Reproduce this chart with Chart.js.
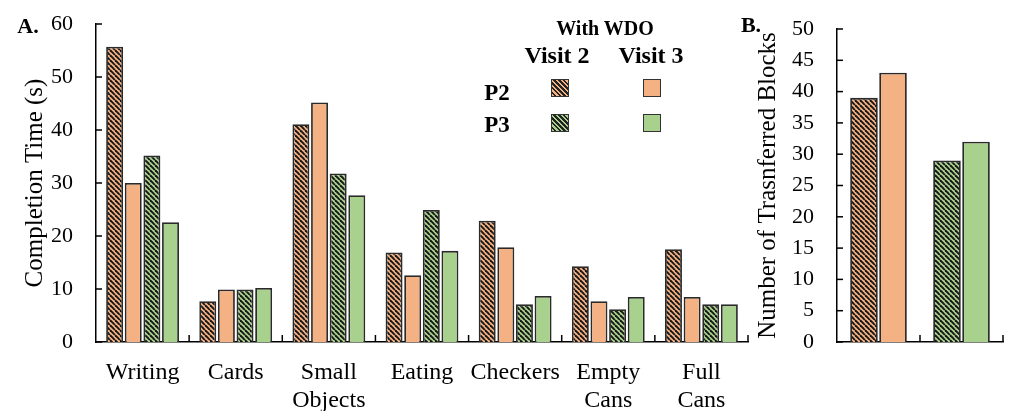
<!DOCTYPE html>
<html>
<head>
<meta charset="utf-8">
<script src="https://cdn.jsdelivr.net/npm/chart.js@4/dist/chart.umd.min.js"></script>
<style>
  body { margin: 0; background: #fff; width: 1016px; height: 411px; overflow: hidden; position: relative; font-family: "Liberation Serif", serif; }
  #wrapA { position: absolute; left: 0; top: 0; width: 760px; height: 411px; }
  #wrapB { position: absolute; left: 730px; top: 0; width: 286px; height: 411px; }
  .lbl { position: absolute; transform: translate(-50%, -50%); white-space: nowrap; font-weight: bold; line-height: 1; color: #000; }
  .sq { position: absolute; width: 16px; height: 16px; border: 1.5px solid #333; }
  .hatchO { background: repeating-linear-gradient(45deg, #F4B183 0 1.6px, #222 1.6px 3.4px); }
  .hatchG { background: repeating-linear-gradient(45deg, #A9D18E 0 1.6px, #222 1.6px 3.4px); }
</style>
</head>
<body>
<div id="wrapA"><canvas id="chartA"></canvas></div>
<div id="wrapB"><canvas id="chartB"></canvas></div>

<div class="lbl" style="left:28px; top:26px; font-size:22px;">A.</div>
<div class="lbl" style="left:751px; top:25px; font-size:22px;">B.</div>

<!-- legenda -->
<div class="lbl" style="left:605px; top:28px; font-size:20px;">With WDO</div>
<div class="lbl" style="left:557px; top:55px; font-size:24px;">Visit 2</div>
<div class="lbl" style="left:651px; top:55px; font-size:24px;">Visit 3</div>
<div class="lbl" style="left:497px; top:92px; font-size:23px;">P2</div>
<div class="lbl" style="left:497px; top:124px; font-size:23px;">P3</div>
<div class="sq hatchO" style="left:551px; top:79px;"></div>
<div class="sq" style="left:643px; top:79px; background:#F4B183;"></div>
<div class="sq hatchG" style="left:551px; top:114px;"></div>
<div class="sq" style="left:643px; top:114px; background:#A9D18E;"></div>

<script>
// Dados do painel A (tempo em segundos)
var tasks = [['Writing'], ['Cards'], ['Small', 'Objects'], ['Eating'], ['Checkers'], ['Empty', 'Cans'], ['Full', 'Cans']];
var p2Visit2 = [55.7, 7.7, 41.1, 16.9, 22.9, 14.3, 17.5];
var p2Visit3 = [30.0, 9.9, 45.2, 12.6, 17.9, 7.7, 8.5];
var p3Visit2 = [35.2, 9.9, 31.8, 24.9, 7.1, 6.2, 7.1];
var p3Visit3 = [22.6, 10.2, 27.7, 17.2, 8.7, 8.5, 7.1];
var ticksA = [0, 10, 20, 30, 40, 50, 60];

// Dados do painel B (blocos transferidos)
var participants = ['P2', 'P3'];
var blocksVisit2 = [39, 29];
var blocksVisit3 = [43, 32];
var ticksB = [0, 5, 10, 15, 20, 25, 30, 35, 40, 45, 50];

var ORANGE = '#F4B183';
var GREEN = '#A9D18E';

function hatch(color) {
    var s = 5;
    var c = document.createElement('canvas');
    c.width = s; c.height = s;
    var g = c.getContext('2d');
    g.fillStyle = color;
    g.fillRect(0, 0, s, s);
    g.strokeStyle = '#151515';
    g.lineWidth = 1.9;
    for (var x = -s; x <= s; x += s) {
        g.beginPath();
        g.moveTo(x, 0);
        g.lineTo(x + s, s);
        g.stroke();
    }
    return g.createPattern(c, 'repeat');
}

var hatchOrange = hatch(ORANGE);
var hatchGreen = hatch(GREEN);

// Marcas pequenas para dentro nos eixos
var innerTicks = {
    id: 'innerTicks',
    afterDraw: function (chart) {
        var ctx = chart.ctx, x = chart.scales.x, y = chart.scales.y;
        ctx.save();
        ctx.strokeStyle = '#000';
        ctx.lineWidth = 1.5;
        y.ticks.forEach(function (t, i) {
            var py = y.getPixelForTick(i);
            ctx.beginPath(); ctx.moveTo(x.left, py); ctx.lineTo(x.left + 6, py); ctx.stroke();
        });
        for (var i = 1; i <= x.ticks.length; i++) {
            var px = x.getPixelForValue(i - 0.5);
            ctx.beginPath(); ctx.moveTo(px, y.bottom); ctx.lineTo(px, y.bottom - 7); ctx.stroke();
        }
        ctx.restore();
    }
};

Chart.defaults.font.family = '"Liberation Serif", "Times New Roman", serif';
Chart.defaults.color = '#000';
Chart.defaults.animation = false;

function yScale(max, step, title, tickList, width) {
    return {
        min: 0, max: max,
        afterBuildTicks: function (s) { s.ticks = tickList.map(function (v) { return { value: v }; }); },
        afterFit: function (s) { s.width = width; },
        // grade escondida, mas o tickLength serve de espaço entre eixo e rótulos
        grid: { display: false, drawTicks: true, tickLength: 23 },
        border: { display: true, color: '#000', width: 1.5 },
        ticks: { stepSize: step, padding: 0, font: { size: 22 } },
        title: { display: true, text: title, padding: 0, font: { size: 25 } }
    };
}

function xScale(showLabels) {
    return {
        afterFit: function (s) { s.height = 69; },
        grid: { display: false, drawTicks: true, tickLength: 17 },
        border: { display: true, color: '#000', width: 1.5 },
        ticks: { display: showLabels, padding: 0, maxRotation: 0, autoSkip: false, font: { size: 24, lineHeight: 1.17 } }
    };
}

new Chart(document.getElementById('chartA'), {
    type: 'bar',
    data: {
        labels: tasks,
        datasets: [
            { label: 'P2 Visit 2', data: p2Visit2, backgroundColor: hatchOrange },
            { label: 'P2 Visit 3', data: p2Visit3, backgroundColor: ORANGE },
            { label: 'P3 Visit 2', data: p3Visit2, backgroundColor: hatchGreen },
            { label: 'P3 Visit 3', data: p3Visit3, backgroundColor: GREEN }
        ]
    },
    options: {
        responsive: true,
        maintainAspectRatio: false,
        layout: { padding: { left: 20, top: 24, right: 12, bottom: 0 } },
        datasets: { bar: { borderColor: '#2a2a2a', borderWidth: 1.8, categoryPercentage: 0.8, barPercentage: 0.91 } },
        plugins: { legend: { display: false }, tooltip: { enabled: false } },
        scales: {
            x: xScale(true),
            y: yScale(60, 10, 'Completion Time (s)', ticksA, 76)
        }
    },
    plugins: [innerTicks]
});

new Chart(document.getElementById('chartB'), {
    type: 'bar',
    data: {
        labels: participants,
        datasets: [
            { label: 'Visit 2', data: blocksVisit2, backgroundColor: [hatchOrange, hatchGreen] },
            { label: 'Visit 3', data: blocksVisit3, backgroundColor: [ORANGE, GREEN] }
        ]
    },
    options: {
        responsive: true,
        maintainAspectRatio: false,
        layout: { padding: { left: 23, top: 29, right: 13, bottom: 0 } },
        datasets: { bar: { borderColor: '#2a2a2a', borderWidth: 1.8, categoryPercentage: 0.7, barPercentage: 0.95 } },
        plugins: { legend: { display: false }, tooltip: { enabled: false } },
        scales: {
            x: xScale(false),
            y: yScale(50, 5, 'Number of Trasnferred Blocks', ticksB, 84)
        }
    },
    plugins: [innerTicks]
});
</script>
</body>
</html>
